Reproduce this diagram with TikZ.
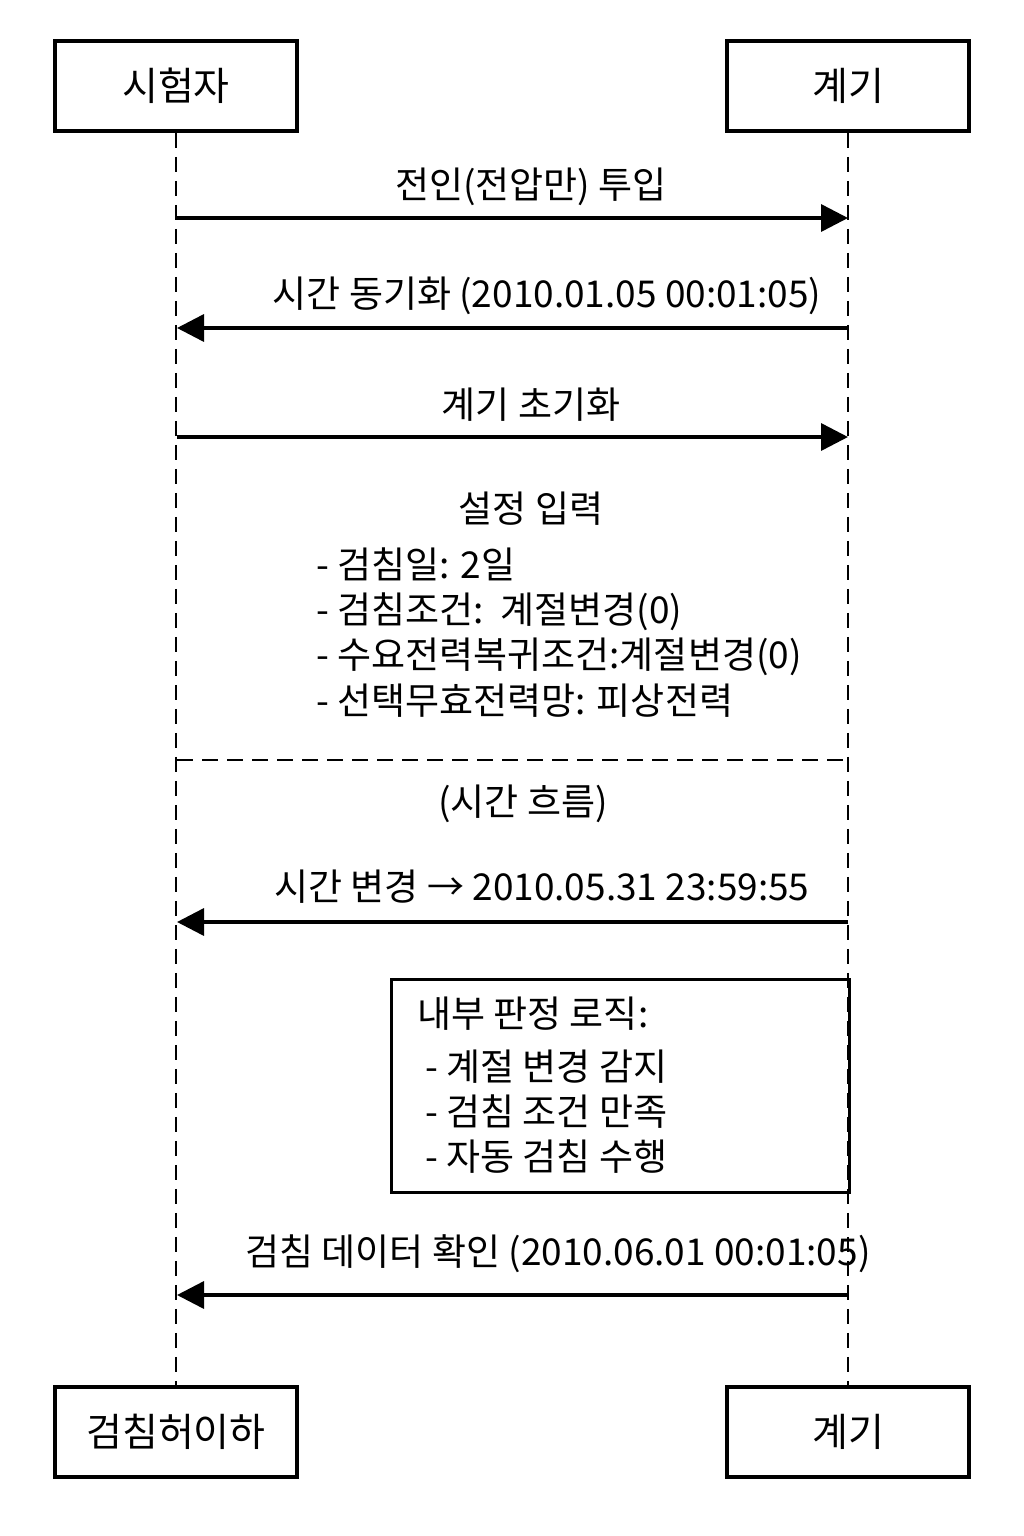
\documentclass[tikz,border=0pt]{standalone}
\usepackage{fontspec}
\setmainfont{Noto Sans CJK KR}
\usetikzlibrary{arrows.meta}
\begin{document}
\begin{tikzpicture}[x=1pt,y=-1pt,
  every node/.style={font=\fontsize{37}{44}\selectfont},
  actor/.style={draw,line width=3.5pt,minimum width=242pt,minimum height=90pt,inner sep=0pt,font=\fontsize{39}{44}\selectfont},
  life/.style={line width=2.2pt,dash pattern=on 15pt off 9pt},
  msg/.style={line width=3.5pt,-{Triangle[length=27pt,width=27pt]}},
  lbl/.style={anchor=base,inner sep=0pt},
  lblw/.style={anchor=base west,inner sep=0pt},
]
\useasboundingbox (0,0) rectangle (1024,1536);
% participants
\node[actor] (a) at (176,86) {시험자};
\node[actor] (b) at (848,86) {계기};
\node[actor] (a2) at (176,1432) {검침허이하};
\node[actor] (b2) at (848,1432) {계기};
% lifelines
\draw[life] (a.south) -- (a2.north);
\draw[life] (b.south) -- (b2.north);
% message endpoints
\coordinate (m1a) at (177,218); \coordinate (m1b) at (848,218);
\coordinate (m2a) at (177,328); \coordinate (m2b) at (848,328);
\coordinate (m3a) at (177,437); \coordinate (m3b) at (848,437);
\coordinate (m4a) at (177,922); \coordinate (m4b) at (848,922);
\coordinate (m5a) at (177,1295); \coordinate (m5b) at (848,1295);
\coordinate (sepL) at (177,760); \coordinate (sepR) at (848,760);
% messages
\draw[msg] (m1a) -- (m1b);
\node[lbl] (l1) at (531,198) {전인(전압만) 투입};
\draw[msg] (m2b) -- (m2a);
\node[lbl] (l2) at (547,307) {시간 동기화 (2010.01.05 00:01:05)};
\draw[msg] (m3a) -- (m3b);
\node[lbl] (l3) at (531,418) {계기 초기화};
% settings
\node[lbl] (set) at (531,522) {설정 입력};
\node[lblw] (s1) at (316,578) {- 검침일: 2일};
\node[lblw] (s2) at (316,623) {- 검침조건:\ \ 계절변경(0)};
\node[lblw] (s3) at (316,668) {- 수요전력복귀조건:계절변경(0)};
\node[lblw] (s4) at (316,714) {- 선택무효전력망: 피상전력};
% separator
\draw[line width=2.2pt,dash pattern=on 16pt off 9pt] (sepL) -- (sepR);
\node[lbl] (flow) at (523,815) {(시간 흐름)};
\draw[msg] (m4b) -- (m4a);
\node[lbl] (l4) at (542,900) {시간 변경 → 2010.05.31 23:59:55};
% logic box
\node[draw,line width=3pt,minimum width=458pt,minimum height=213pt,inner sep=0pt,anchor=north west] (logic) at (390,978) {};
\node[lblw] (g0) at (417,1027) {내부 판정 로직:};
\node[lblw] (g1) at (425,1080) {- 계절 변경 감지};
\node[lblw] (g2) at (425,1125) {- 검침 조건 만족};
\node[lblw] (g3) at (425,1170) {- 자동 검침 수행};
\draw[msg] (m5b) -- (m5a);
\node[lbl] (l5) at (558,1265) {검침 데이터 확인 (2010.06.01 00:01:05)};
\end{tikzpicture}
\end{document}
